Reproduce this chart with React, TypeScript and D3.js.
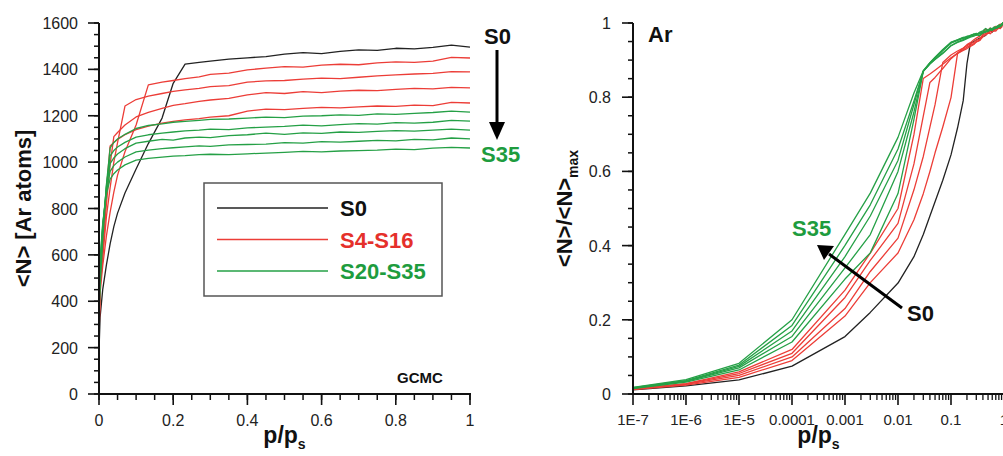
import React from "react";
import * as d3 from "d3";

// relative pressure grid (p/ps)
const P = [1e-7, 1e-6, 1e-5, 1e-4, 1e-3, 3e-3, 0.01, 0.02, 0.03, 0.04, 0.05, 0.07, 0.1, 0.133, 0.17, 0.2, 0.232, 0.27, 0.3, 0.35, 0.4, 0.45, 0.5, 0.55, 0.6, 0.65, 0.7, 0.75, 0.8, 0.85, 0.9, 0.95, 1.0];

// <N> [Ar atoms] per sample
const S0 = [17, 33, 57, 113, 233, 331, 450, 557, 647, 722, 780, 867, 970, 1080, 1190, 1340, 1423, 1430, 1436, 1444, 1450, 1455, 1466, 1472, 1468, 1478, 1484, 1482, 1491, 1488, 1495, 1505, 1496];
const S4 = [17, 35, 65, 131, 305, 436, 552, 682, 784, 871, 944, 1045, 1160, 1333, 1345, 1352, 1360, 1368, 1378, 1384, 1398, 1405, 1412, 1410, 1418, 1422, 1420, 1428, 1432, 1430, 1436, 1452, 1449];
const S8 = [18, 36, 70, 139, 320, 459, 584, 765, 890, 1000, 1084, 1242, 1270, 1285, 1296, 1305, 1312, 1318, 1326, 1330, 1345, 1350, 1352, 1358, 1362, 1360, 1366, 1372, 1376, 1380, 1383, 1390, 1389];
const S12 = [17, 36, 73, 145, 344, 476, 608, 820, 990, 1110, 1128, 1160, 1195, 1215, 1232, 1245, 1252, 1262, 1268, 1275, 1290, 1300, 1296, 1304, 1300, 1306, 1310, 1308, 1314, 1318, 1316, 1322, 1320];
const S16 = [18, 35, 75, 151, 352, 478, 629, 880, 1070, 1085, 1098, 1118, 1140, 1155, 1168, 1176, 1182, 1188, 1194, 1200, 1220, 1229, 1226, 1232, 1236, 1234, 1238, 1242, 1240, 1246, 1244, 1258, 1255];
const S20 = [18, 39, 79, 171, 378, 464, 659, 903, 1061, 1085, 1100, 1120, 1145, 1158, 1165, 1172, 1176, 1180, 1184, 1186, 1190, 1194, 1192, 1198, 1200, 1204, 1202, 1208, 1206, 1210, 1214, 1220, 1216];
const S24 = [19, 40, 83, 183, 401, 507, 708, 897, 1027, 1050, 1065, 1085, 1108, 1118, 1125, 1130, 1135, 1138, 1142, 1140, 1148, 1151, 1154, 1160, 1156, 1162, 1166, 1164, 1170, 1168, 1172, 1180, 1177];
const S28 = [18, 40, 85, 194, 423, 548, 719, 891, 994, 1018, 1035, 1058, 1082, 1090, 1098, 1095, 1104, 1108, 1106, 1114, 1118, 1125, 1120, 1126, 1124, 1130, 1128, 1133, 1136, 1134, 1138, 1142, 1138];
const S32 = [19, 40, 86, 204, 442, 563, 729, 872, 960, 985, 1000, 1022, 1044, 1052, 1058, 1062, 1066, 1070, 1068, 1074, 1076, 1078, 1084, 1082, 1088, 1086, 1090, 1094, 1092, 1098, 1096, 1104, 1100];
const S35 = [19, 41, 88, 213, 458, 576, 736, 863, 927, 950, 966, 988, 1009, 1016, 1022, 1026, 1028, 1032, 1034, 1032, 1036, 1039, 1042, 1046, 1044, 1048, 1050, 1052, 1056, 1054, 1060, 1064, 1061];

const SERIES_NAMES = ["S0", "S4", "S8", "S12", "S16", "S20", "S24", "S28", "S32", "S35"];
const SERIES_VALUES = [S0, S4, S8, S12, S16, S20, S24, S28, S32, S35];
const SERIES_GROUP = ["black", "red", "red", "red", "red", "green", "green", "green", "green", "green"];

const LEGEND_LABELS = ["S0", "S4-S16", "S20-S35"];
const LEGEND_GROUPS = ["black", "red", "green"];

const LEFT_X_TICKS = [0, 0.2, 0.4, 0.6, 0.8, 1];
const LEFT_X_LABELS = ["0", "0.2", "0.4", "0.6", "0.8", "1"];
const LEFT_Y_TICKS = [0, 200, 400, 600, 800, 1000, 1200, 1400, 1600];
const RIGHT_Y_TICKS = [0, 0.2, 0.4, 0.6, 0.8, 1];
const RIGHT_Y_LABELS = ["0", "0.2", "0.4", "0.6", "0.8", "1"];
const RIGHT_X_TICKS = [1e-7, 1e-6, 1e-5, 1e-4, 1e-3, 1e-2, 1e-1, 1];
const RIGHT_X_LABELS = ["1E-7", "1E-6", "1E-5", "0.0001", "0.001", "0.01", "0.1", "1"];

const LINE_COLOR: Record<string, string> = { black: "#222222", red: "#ec3d37", green: "#25a046" };
const TEXT_COLOR: Record<string, string> = { black: "#111111", red: "#e5302b", green: "#1e9c3e" };

const FONT = "'Liberation Sans', Arial, Helvetica, sans-serif";

export default function App() {
  const W = 1003, H = 456;
  const xL = d3.scaleLinear().domain([0, 1]).range([99, 470]);
  const yL = d3.scaleLinear().domain([0, 1600]).range([394, 23]);
  const xR = d3.scaleLog().domain([1e-7, 1]).range([633, 1004]);
  const yR = d3.scaleLinear().domain([0, 1]).range([394, 23]);

  const order = [0, 1, 2, 3, 4, 5, 6, 7, 8, 9];

  const leftLine = (vals: number[]) =>
    d3.line<number>().x((_, i) => xL(P[i])).y((v) => yL(v))(vals) || "";
  const rightLine = (vals: number[]) => {
    const m = d3.max(vals) as number;
    return d3.line<number>().x((_, i) => xR(P[i])).y((v) => yR(v / m))(vals) || "";
  };

  const lyMinor = d3.range(0, 1601, 50);
  const lxMinor = d3.range(0, 20.5, 1).map((k) => k * 0.05);
  const ryMinor = d3.range(0, 20.5, 1).map((k) => k * 0.05);
  const rxMinor: number[] = [];
  for (let e = -7; e < 0; e++) for (let k = 2; k <= 9; k++) rxMinor.push(k * Math.pow(10, e));

  const axisColor = "#111";

  return (
    <div style={{ position: "absolute", left: 0, top: 0, width: W, height: H, background: "#fff" }}>
      <svg width={W} height={H} style={{ display: "block", fontFamily: FONT }}>
        <rect x={0} y={0} width={W} height={H} fill="#fff" />

        {/* ---------- LEFT PANEL ---------- */}
        {order.map((i) => (
          <path key={"l" + i} d={leftLine(SERIES_VALUES[i])} fill="none" stroke={LINE_COLOR[SERIES_GROUP[i]]} strokeWidth={1.3} strokeLinejoin="round" />
        ))}
        {/* axes */}
        <line x1={xL(0)} x2={xL(0)} y1={yL(0) + 1} y2={yL(1600)} stroke={axisColor} strokeWidth={2} />
        <line x1={xL(0) - 1} x2={xL(1) + 1} y1={yL(0)} y2={yL(0)} stroke={axisColor} strokeWidth={2} />
        {lyMinor.map((v) => (
          <line key={"lym" + v} x1={xL(0) - 5} x2={xL(0)} y1={yL(v)} y2={yL(v)} stroke={axisColor} strokeWidth={1.5} />
        ))}
        {LEFT_Y_TICKS.map((v) => (
          <g key={"lyt" + v}>
            <line x1={xL(0) - 11} x2={xL(0)} y1={yL(v)} y2={yL(v)} stroke={axisColor} strokeWidth={1.6} />
            <text x={xL(0) - 21} y={yL(v) + 6} textAnchor="end" fontSize={16} fill="#222">{v}</text>
          </g>
        ))}
        {lxMinor.map((v, k) => (
          <line key={"lxm" + k} x1={xL(v)} x2={xL(v)} y1={yL(0)} y2={yL(0) + 6} stroke={axisColor} strokeWidth={1.5} />
        ))}
        {LEFT_X_TICKS.map((v, k) => (
          <g key={"lxt" + k}>
            <line x1={xL(v)} x2={xL(v)} y1={yL(0)} y2={yL(0) + 11} stroke={axisColor} strokeWidth={1.6} />
            <text x={xL(v)} y={426} textAnchor="middle" fontSize={16} fill="#222">{LEFT_X_LABELS[k]}</text>
          </g>
        ))}
        <text transform={`translate(31, ${(yL(0) + yL(1600)) / 2}) rotate(-90)`} textAnchor="middle" fontSize={22} fontWeight="bold" fill="#111">
          {"<N> [Ar atoms]"}
        </text>
        <text x={(xL(0) + xL(1)) / 2} y={443} textAnchor="middle" fontSize={23} fontWeight="bold" fill="#111">
          p/p<tspan fontSize={14} dy={6}>s</tspan>
        </text>
        <text x={397} y={383} fontSize={15} fontWeight="bold" fill="#111">GCMC</text>

        {/* legend */}
        <rect x={204} y={183} width={238} height={113} fill="#fff" stroke="#555" strokeWidth={1.5} />
        {LEGEND_LABELS.map((lab, k) => {
          const yy = 208 + k * 31.5;
          return (
            <g key={"lg" + k}>
              <line x1={217} x2={328} y1={yy} y2={yy} stroke={LINE_COLOR[LEGEND_GROUPS[k]]} strokeWidth={1.3} />
              <text x={340} y={yy + 8} fontSize={22} fontWeight="bold" fill={TEXT_COLOR[LEGEND_GROUPS[k]]}>{lab}</text>
            </g>
          );
        })}

        {/* S0 -> S35 arrow */}
        <text x={484} y={44} fontSize={22} fontWeight="bold" fill={TEXT_COLOR.black}>{SERIES_NAMES[0]}</text>
        <line x1={497} x2={497} y1={50} y2={124} stroke="#000" strokeWidth={3} />
        <polygon points="489,122 505,122 497,140" fill="#000" />
        <text x={481} y={162} fontSize={22} fontWeight="bold" fill={TEXT_COLOR.green}>{SERIES_NAMES[9]}</text>

        {/* ---------- RIGHT PANEL ---------- */}
        {order.map((i) => (
          <path key={"r" + i} d={rightLine(SERIES_VALUES[i])} fill="none" stroke={LINE_COLOR[SERIES_GROUP[i]]} strokeWidth={1.3} strokeLinejoin="round" />
        ))}
        <line x1={xR(1e-7)} x2={xR(1e-7)} y1={yR(0) + 1} y2={yR(1)} stroke={axisColor} strokeWidth={2} />
        <line x1={xR(1e-7) - 1} x2={W} y1={yR(0)} y2={yR(0)} stroke={axisColor} strokeWidth={2} />
        {ryMinor.map((v, k) => (
          <line key={"rym" + k} x1={xR(1e-7) - 5} x2={xR(1e-7)} y1={yR(v)} y2={yR(v)} stroke={axisColor} strokeWidth={1.5} />
        ))}
        {RIGHT_Y_TICKS.map((v, k) => (
          <g key={"ryt" + k}>
            <line x1={xR(1e-7) - 11} x2={xR(1e-7)} y1={yR(v)} y2={yR(v)} stroke={axisColor} strokeWidth={1.6} />
            <text x={xR(1e-7) - 22} y={yR(v) + 6} textAnchor="end" fontSize={16} fill="#222">{RIGHT_Y_LABELS[k]}</text>
          </g>
        ))}
        {rxMinor.map((v, k) => (
          <line key={"rxm" + k} x1={xR(v)} x2={xR(v)} y1={yR(0)} y2={yR(0) + 6} stroke={axisColor} strokeWidth={1.3} />
        ))}
        {RIGHT_X_TICKS.map((v, k) => (
          <g key={"rxt" + k}>
            <line x1={xR(v)} x2={xR(v)} y1={yR(0)} y2={yR(0) + 11} stroke={axisColor} strokeWidth={1.6} />
            <text x={xR(v)} y={425} textAnchor="middle" fontSize={15} fill="#222">{RIGHT_X_LABELS[k]}</text>
          </g>
        ))}
        <text transform={`translate(572, ${(yR(0) + yR(1)) / 2}) rotate(-90)`} textAnchor="middle" fontSize={22} fontWeight="bold" fill="#111">
          {"<N>/<N>"}<tspan fontSize={14} dy={6}>max</tspan>
        </text>
        <text x={(xR(1e-7) + xR(1)) / 2} y={443} textAnchor="middle" fontSize={23} fontWeight="bold" fill="#111">
          p/p<tspan fontSize={14} dy={6}>s</tspan>
        </text>
        <text x={648} y={42} fontSize={22} fontWeight="bold" fill="#111">Ar</text>

        {/* S0 -> S35 arrow (right) */}
        <line x1={902} y1={308} x2={829} y2={254} stroke="#000" strokeWidth={3} />
        <polygon points="817,245 834,246 824,260" fill="#000" />
        <text x={907} y={321} fontSize={22} fontWeight="bold" fill={TEXT_COLOR.black}>{SERIES_NAMES[0]}</text>
        <text x={792} y={236} fontSize={22} fontWeight="bold" fill={TEXT_COLOR.green}>{SERIES_NAMES[9]}</text>
      </svg>
    </div>
  );
}
